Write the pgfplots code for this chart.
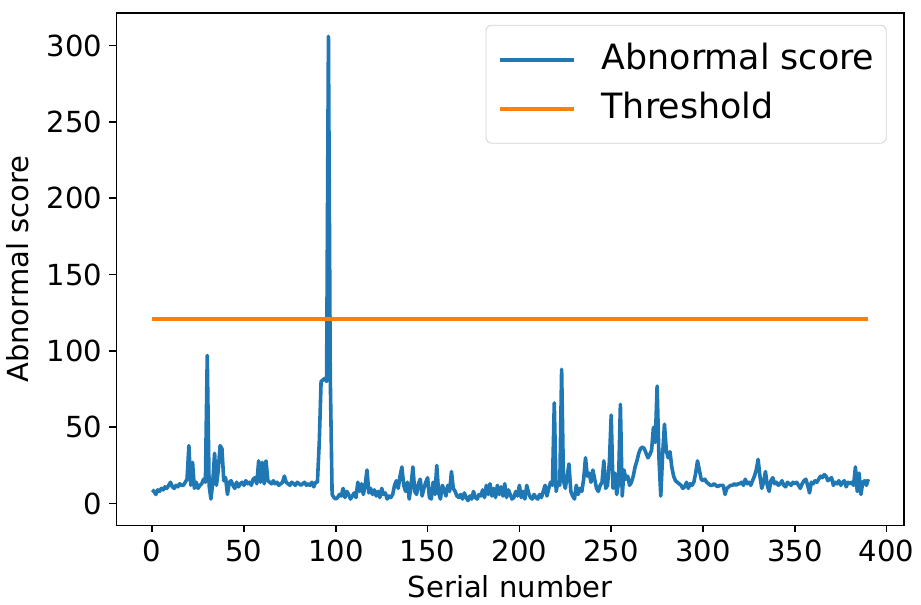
\documentclass[border=0pt]{standalone}
\usepackage{fontspec}
\setmainfont{DejaVu Sans}
\usepackage{pgfplots}
\pgfplotsset{compat=1.18}
\usepackage{pgfplotstable}
\definecolor{mplblue}{HTML}{1F77B4}
\definecolor{mplorange}{HTML}{FF7F0E}

\pgfplotstableread[row sep=\\]{
score\\
9\\ 8\\ 6\\ 9\\ 8\\ 10\\ 9\\ 11\\ 10\\ 12\\
14\\ 11\\ 10\\ 12\\ 11\\ 13\\ 12\\ 12\\ 14\\ 16\\
38\\ 12\\ 27\\ 10\\ 14\\ 10\\ 12\\ 13\\ 16\\ 14\\
97\\ 12\\ 3\\ 14\\ 33\\ 12\\ 22\\ 38\\ 36\\ 15\\
17\\ 6\\ 14\\ 15\\ 12\\ 10\\ 14\\ 11\\ 13\\ 14\\
12\\ 15\\ 13\\ 14\\ 12\\ 16\\ 17\\ 13\\ 28\\ 14\\
27\\ 13\\ 28\\ 15\\ 14\\ 13\\ 15\\ 13\\ 14\\ 12\\
13\\ 14\\ 18\\ 14\\ 13\\ 12\\ 14\\ 13\\ 12\\ 14\\
13\\ 12\\ 13\\ 14\\ 12\\ 13\\ 12\\ 14\\ 11\\ 14\\
14\\ 40\\ 80\\ 81\\ 82\\ 80\\ 306\\ 83\\ 6\\ 4\\
3\\ 4\\ 6\\ 5\\ 10\\ 4\\ 8\\ 6\\ 3\\ 5\\
7\\ 4\\ 14\\ 8\\ 13\\ 6\\ 12\\ 22\\ 7\\ 10\\
6\\ 9\\ 5\\ 8\\ 4\\ 10\\ 6\\ 7\\ 3\\ 5\\
4\\ 6\\ 12\\ 15\\ 10\\ 18\\ 24\\ 12\\ 8\\ 14\\
3\\ 12\\ 24\\ 8\\ 6\\ 13\\ 16\\ 5\\ 10\\ 14\\
17\\ 4\\ 3\\ 14\\ 6\\ 25\\ 7\\ 3\\ 12\\ 9\\
5\\ 12\\ 8\\ 21\\ 10\\ 8\\ 5\\ 4\\ 6\\ 3\\
7\\ 4\\ 2\\ 5\\ 3\\ 8\\ 4\\ 3\\ 6\\ 5\\
9\\ 4\\ 12\\ 6\\ 13\\ 5\\ 10\\ 4\\ 12\\ 6\\
11\\ 5\\ 13\\ 4\\ 9\\ 6\\ 3\\ 4\\ 8\\ 5\\
12\\ 4\\ 8\\ 3\\ 12\\ 7\\ 4\\ 3\\ 6\\ 4\\
3\\ 6\\ 4\\ 8\\ 12\\ 5\\ 10\\ 14\\ 12\\ 66\\
8\\ 14\\ 12\\ 88\\ 15\\ 10\\ 18\\ 26\\ 8\\ 5\\
3\\ 12\\ 6\\ 10\\ 8\\ 16\\ 30\\ 18\\ 20\\ 14\\
22\\ 16\\ 10\\ 8\\ 12\\ 14\\ 28\\ 10\\ 12\\ 27\\
58\\ 10\\ 20\\ 6\\ 14\\ 65\\ 5\\ 22\\ 16\\ 18\\
12\\ 14\\ 18\\ 24\\ 28\\ 33\\ 36\\ 37\\ 36\\ 33\\
30\\ 32\\ 35\\ 50\\ 40\\ 77\\ 30\\ 5\\ 32\\ 52\\
35\\ 30\\ 34\\ 24\\ 18\\ 15\\ 14\\ 13\\ 12\\ 10\\
11\\ 14\\ 10\\ 13\\ 12\\ 14\\ 20\\ 28\\ 22\\ 16\\
15\\ 16\\ 14\\ 13\\ 12\\ 12\\ 13\\ 12\\ 11\\ 12\\
12\\ 12\\ 6\\ 10\\ 11\\ 12\\ 12\\ 13\\ 12\\ 13\\
13\\ 14\\ 12\\ 16\\ 13\\ 14\\ 12\\ 15\\ 18\\ 22\\
29\\ 18\\ 10\\ 14\\ 21\\ 12\\ 8\\ 15\\ 17\\ 13\\
14\\ 12\\ 13\\ 15\\ 12\\ 11\\ 14\\ 13\\ 12\\ 14\\
13\\ 14\\ 12\\ 10\\ 13\\ 15\\ 16\\ 12\\ 7\\ 14\\
13\\ 15\\ 14\\ 16\\ 18\\ 17\\ 19\\ 18\\ 15\\ 16\\
17\\ 12\\ 14\\ 13\\ 15\\ 12\\ 14\\ 15\\ 11\\ 14\\
13\\ 14\\ 12\\ 24\\ 8\\ 20\\ 6\\ 14\\ 15\\ 12\\
16\\
}\scoredata

\begin{document}
\begin{tikzpicture}
\begin{axis}[
  scale only axis,
  width=393.5pt, height=256pt,
  xmin=-19.5, xmax=409.5,
  ymin=-14.3, ymax=321.3,
  xtick={0,50,...,400},
  ytick={0,50,...,300},
  tick pos=left,
  tick align=outside,
  major tick length=3.5pt,
  tick style={black, line width=0.8pt},
  axis line style={line width=0.8pt},
  /pgf/number format/assume math mode=true,
  ticklabel style={font=\fontsize{14.5}{17}\selectfont},
  label style={font=\fontsize{14.5}{17}\selectfont},
  xlabel={Serial number},
  ylabel={Abnormal score},
  ylabel style={yshift=2pt},
  legend cell align=left,
  legend image code/.code={\draw[#1] (0pt,0pt) -- (37pt,0pt);},
  legend style={
    at={(0.978,0.977)}, anchor=north east,
    font=\fontsize{17.4}{20}\selectfont,
    draw=gray!35, rounded corners=3pt,
    inner xsep=6pt, inner ysep=9pt,
    row sep=8pt,
    /tikz/every odd column/.append style={column sep=13pt},
    nodes={inner sep=0pt, text height=13pt, text depth=3.5pt},
  },
]
\addplot[mplblue, line width=1.8pt, line join=round] table[x expr=\coordindex, y=score] {\scoredata};
\addlegendentry{Abnormal score}
\addplot[mplorange, line width=1.8pt] coordinates {(0,121) (390,121)};
\addlegendentry{Threshold}
\end{axis}
\path ([xshift=7pt,yshift=6.5pt]current axis.north east);
\end{tikzpicture}
\end{document}
